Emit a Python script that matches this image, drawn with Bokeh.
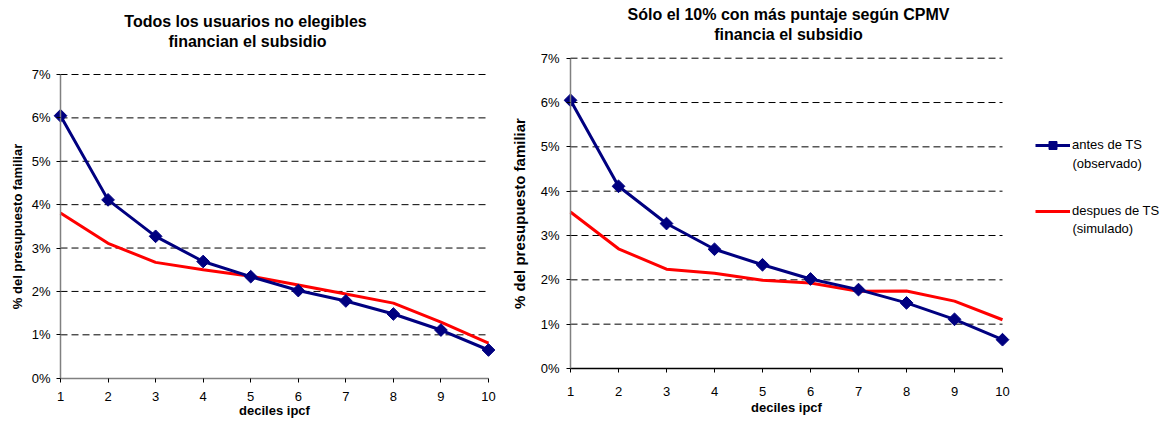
import numpy as np
from bokeh.plotting import figure
from bokeh.models import Range1d, FixedTicker, PrintfTickFormatter, Label, Legend, LegendItem
from bokeh.layouts import row
from bokeh.embed import file_html
from bokeh.resources import INLINE

# ---- data ----
deciles = [1, 2, 3, 4, 5, 6, 7, 8, 9, 10]
antes_todos = [6.05, 4.11, 3.27, 2.69, 2.34, 2.02, 1.78, 1.48, 1.11, 0.65]
despues_todos = [3.81, 3.11, 2.67, 2.50, 2.35, 2.15, 1.94, 1.73, 1.29, 0.81]
antes_top10 = [6.05, 4.11, 3.27, 2.69, 2.34, 2.02, 1.78, 1.48, 1.11, 0.65]
despues_top10 = [3.53, 2.70, 2.24, 2.15, 1.99, 1.93, 1.74, 1.75, 1.52, 1.10]
y_ticks = [0, 1, 2, 3, 4, 5, 6, 7]
grid_ticks = [1, 2, 3, 4, 5, 6, 7]

title_left = ["Todos los usuarios no elegibles", "financian el subsidio"]
title_right = ["Sólo el 10% con más puntaje según CPMV", "financia el subsidio"]
x_label = "deciles ipcf"
y_label = "% del presupuesto familiar"
legend_antes = ["antes de TS", "(observado)"]
legend_despues = ["despues de TS", "(simulado)"]

FONT = "Liberation Sans"
BLUE = "#000080"
RED = "#FF0000"

Y_MIN, Y_MAX = y_ticks[0], y_ticks[-1]
X_MIN, X_MAX = deciles[0], deciles[-1]
H = 422


def make_fig(width, box, ylab_size, x_axis_color,
             tick_std_x, label_std_x, tick_std_y, label_std_y):
    """The frame covers the whole figure; the axes are pinned (fixed_location)
    at decile 1 / 0 %, and the ranges are chosen so the axes occupy `box`
    = (left, top, right, bottom) pixels of the figure."""
    bl, bt, br, bb = box
    ux = (br - bl) / (X_MAX - X_MIN)
    uy = (bb - bt) / (Y_MAX - Y_MIN)
    xr = Range1d(X_MIN - bl / ux, X_MAX + (width - br) / ux)
    yr = Range1d(Y_MIN - (H - bb) / uy, Y_MAX + bt / uy)
    p = figure(width=width, height=H, x_range=xr, y_range=yr,
               output_backend="svg", toolbar_location=None,
               min_border=0, min_border_left=0, min_border_right=0,
               min_border_top=0, min_border_bottom=0)
    p.outline_line_color = None
    p.background_fill_color = "white"
    p.border_fill_color = "white"
    p.xgrid.visible = False
    p.ygrid.visible = False

    # dashed horizontal gridlines spanning deciles 1..10 only
    p.segment(x0=X_MIN, x1=X_MAX, y0=grid_ticks, y1=grid_ticks,
              line_color="black", line_width=1, line_dash="7 4")

    p.xaxis.fixed_location = Y_MIN
    p.yaxis.fixed_location = X_MIN
    p.xaxis.ticker = FixedTicker(ticks=deciles)
    p.yaxis.ticker = FixedTicker(ticks=y_ticks)
    p.xaxis.bounds = (X_MIN, X_MAX)
    p.yaxis.bounds = (Y_MIN, Y_MAX)
    p.yaxis.formatter = PrintfTickFormatter(format="%d%%")
    for ax in (p.xaxis, p.yaxis):
        ax.major_label_text_font = FONT
        ax.major_label_text_font_size = "13px"
        ax.major_label_text_color = "black"
        ax.major_tick_in = 0
        ax.major_tick_out = 4
        ax.major_tick_line_color = "black"
        ax.minor_tick_line_color = None
        ax.axis_label_text_font = FONT
        ax.axis_label_text_font_style = "bold"
        ax.axis_label_text_color = "black"
    p.yaxis.axis_line_color = "#808080"
    p.yaxis.axis_line_width = 1.5
    p.xaxis.axis_line_color = x_axis_color
    p.xaxis.axis_line_width = 1.5
    p.xaxis.axis_label = x_label
    p.yaxis.axis_label = y_label
    p.xaxis.axis_label_text_font_size = "13px"
    p.yaxis.axis_label_text_font_size = ylab_size
    p.xaxis.major_label_standoff = tick_std_x
    p.xaxis.axis_label_standoff = label_std_x
    p.yaxis.major_label_standoff = tick_std_y
    p.yaxis.axis_label_standoff = label_std_y
    return p


def add_series(p, antes, despues):
    r_red = p.line(deciles, despues, line_color=RED, line_width=3)
    r_blue = p.line(deciles, antes, line_color=BLUE, line_width=3)
    r_pts = p.scatter(deciles, antes, marker="square", angle=np.pi / 4, size=9,
                      fill_color=BLUE, line_color=BLUE)
    return r_red, r_blue, r_pts


def add_text(p, txt, x, y_from_top, size, bold=False, align="center"):
    p.add_layout(Label(x=x, y=H - y_from_top, x_units="screen", y_units="screen", text=txt,
                       text_align=align, text_baseline="middle", text_font=FONT,
                       text_font_size=size, text_font_style="bold" if bold else "normal",
                       text_color="black"))


# ---- left chart ----  (axes box: x 60..488, y 74..377.7)
p1 = make_fig(500, (60, 74, 488, 377.7), "13px", "#808080", 10, -2, 6, 4)
add_series(p1, antes_todos, despues_todos)
add_text(p1, title_left[0], 245, 20.5, "16px", bold=True)
add_text(p1, title_left[1], 247, 41, "16px", bold=True)

# ---- right chart ----  (axes box: x 70..502, y 57.7..368)
p2 = make_fig(668, (70, 57.7, 502, 368), "15px", "black", 14, 1, 7, 10)
r_red, r_blue, r_pts = add_series(p2, antes_top10, despues_top10)
add_text(p2, title_right[0], 288, 13.5, "16px", bold=True)
add_text(p2, title_right[1], 288, 33.5, "16px", bold=True)

lg = Legend(items=[LegendItem(label=legend_antes[0], renderers=[r_blue, r_pts]),
                   LegendItem(label=legend_despues[0], renderers=[r_red])],
            location=(535, H - 220.5), glyph_width=35, glyph_height=20,
            label_standoff=2, padding=0, margin=0, spacing=46,
            border_line_color=None, background_fill_alpha=0,
            label_text_font=FONT, label_text_font_size="13px", label_text_color="black")
p2.add_layout(lg, "center")

add_text(p2, legend_antes[1], 572, 163, "13px", align="left")
add_text(p2, legend_despues[1], 572, 228, "13px", align="left")

layout = row(p1, p2)
open("out.html", "w").write(file_html(layout, INLINE))
